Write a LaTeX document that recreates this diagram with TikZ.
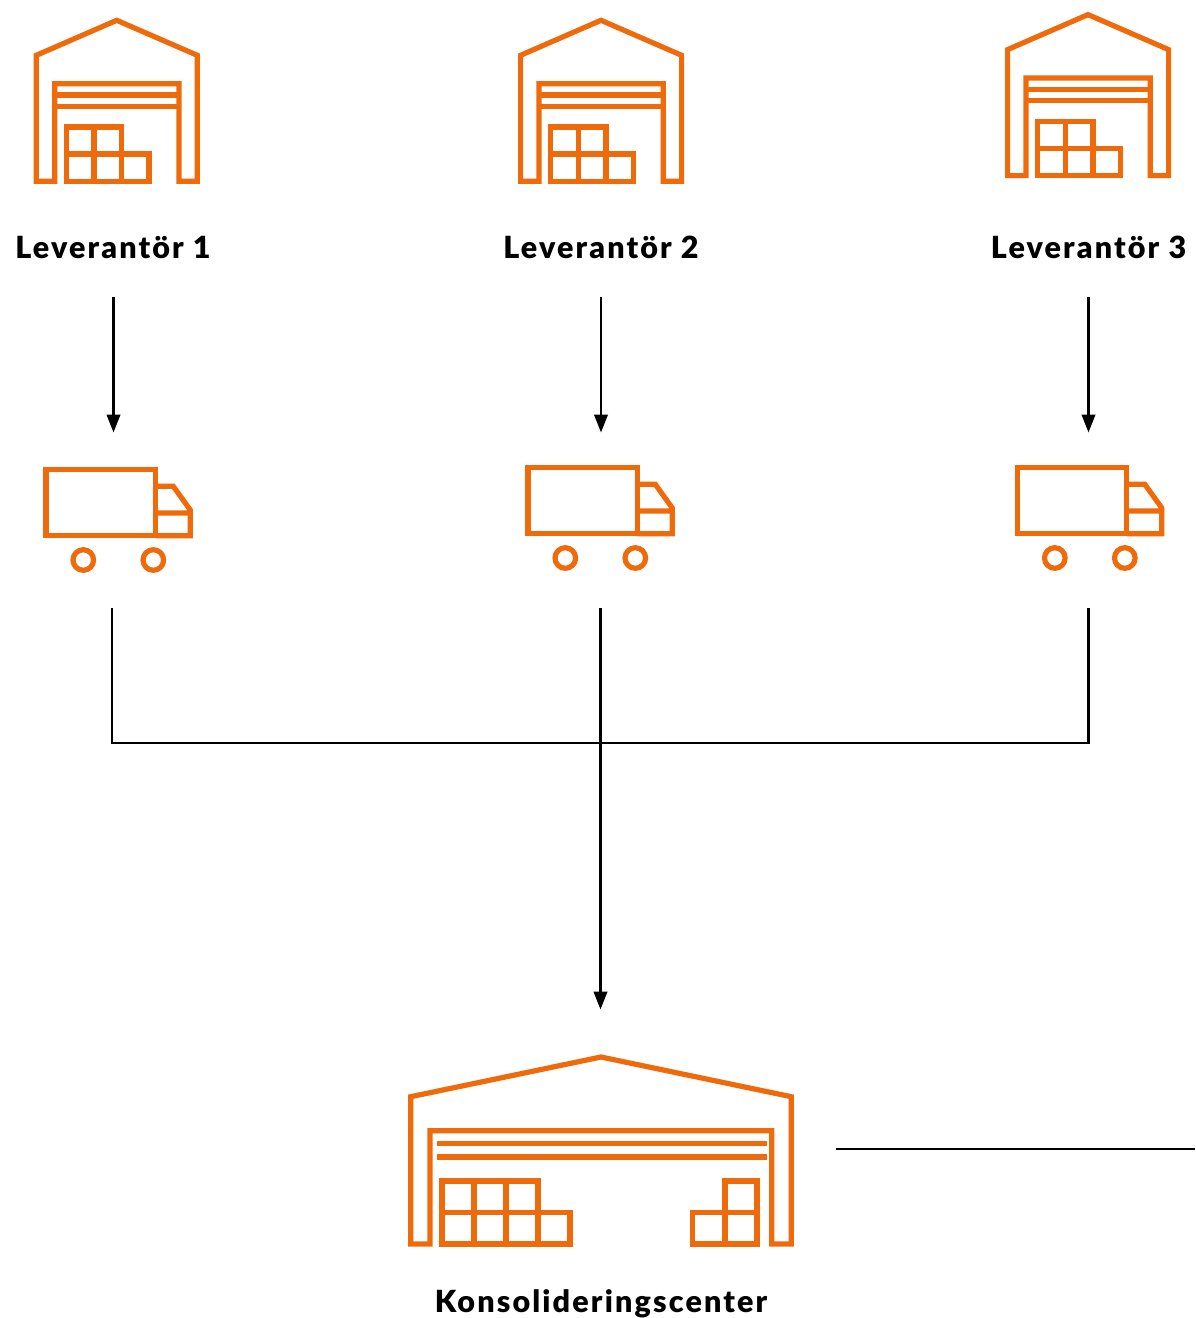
\documentclass[tikz,border=0pt]{standalone}
\usepackage{fontspec}
\setmainfont{Lato}
\newfontfamily\heavyfont[LetterSpace=7]{Lato Black}
\usetikzlibrary{arrows.meta}
\definecolor{brand}{HTML}{EE6A0B}
\tikzset{
  x=1pt,y=-1pt,
  icon/.style={draw=brand,line width=5.2pt,miter limit=10},
  flow/.style={draw=black,line width=2.4pt},
  flowarrow/.style={flow,-{Triangle[length=18pt,width=13.5pt]}},
  lbl/.style={anchor=base,inner sep=0pt,text=black,font=\fontsize{30.5}{32}\heavyfont},
  smallhouse/.pic={
    \draw[icon] (-62,161) -- (-80.4,161) -- (-80.4,35) -- (0,0) -- (80.6,35) -- (80.6,161) -- (62.3,161) -- (62.3,63.4) -- (-62,63.4) -- cycle;
    \draw[icon] (-62,74.7) -- (62.3,74.7) (-62,86) -- (62.3,86);
    \draw[icon] (-50.4,161) rectangle (5,106.7) (-50.4,133.7) -- (32.3,133.7) -- (32.3,161) -- (5,161) (-22.7,106.7) -- (-22.7,161);
  },
  truckicon/.pic={
    \draw[icon] (0,0) rectangle (109.3,66);
    \draw[icon] (109.3,16.6) -- (127.3,16.6) -- (144.3,40.3) -- (144.3,66) -- (109.3,66) (109.3,43.3) -- (144.3,43.3);
    \draw[icon] (37.3,90.3) circle[radius=10.3] (107.3,90.3) circle[radius=10.3];
  },
  bighouse/.pic={
    \draw[icon] (-171,187) -- (-190.3,187) -- (-190.3,39.7) -- (0,0) -- (190.3,39.7) -- (190.3,187) -- (170.7,187) -- (170.7,73.7) -- (-171,73.7) -- cycle;
    \draw[icon] (-164.3,86.7) -- (166.3,86.7) (-164.3,100) -- (166.3,100);
    \draw[icon] (-159,187) rectangle (-63,124) (-159,155.3) -- (-31,155.3) -- (-31,187) -- (-63,187) (-127,124) -- (-127,187) (-95,124) -- (-95,187);
    \draw[icon] (91.7,187) rectangle (156,155.3) (124,124) rectangle (156,187);
  }
}
\begin{document}
\begin{tikzpicture}
\useasboundingbox (0,0) rectangle (1195,1318);
\pic at (116.7,20.3) {smallhouse};
\pic at (601,20.3) {smallhouse};
\pic at (1088,14.6) {smallhouse};
\node[lbl] (lev1) at (113,258.3) {Leverantör 1};
\node[lbl] (lev2) at (601,258.3) {Leverantör 2};
\node[lbl] (lev3) at (1088.5,258.3) {Leverantör 3};
\pic at (46,469.7) {truckicon};
\pic at (528,467.7) {truckicon};
\pic at (1017.5,467.7) {truckicon};
\pic at (601,1057) {bighouse};
\node[lbl] (kons) at (601,1312) {Konsolideringscenter};
% connectors
\coordinate (a1s) at (113.5,296.7); \coordinate (a1e) at (113.5,432.5);
\coordinate (a2s) at (601,296.7);   \coordinate (a2e) at (601,432.5);
\coordinate (a3s) at (1088.5,296.7);\coordinate (a3e) at (1088.5,432.5);
\coordinate (t1) at (112,608);
\coordinate (t2) at (600.5,608);
\coordinate (t3) at (1088.5,608);
\coordinate (in) at (600.5,1009.5);
\coordinate (os) at (836,1149);
\coordinate (oe) at (1195,1149);
\draw[flowarrow] (a1s) -- (a1e);
\draw[flowarrow] (a2s) -- (a2e);
\draw[flowarrow] (a3s) -- (a3e);
\draw[flow] (t1) |- (t2 |- 0,743) -| (t3);
\draw[flowarrow] (t2) -- (in);
\draw[flow] (os) -- (oe);
\end{tikzpicture}
\end{document}
